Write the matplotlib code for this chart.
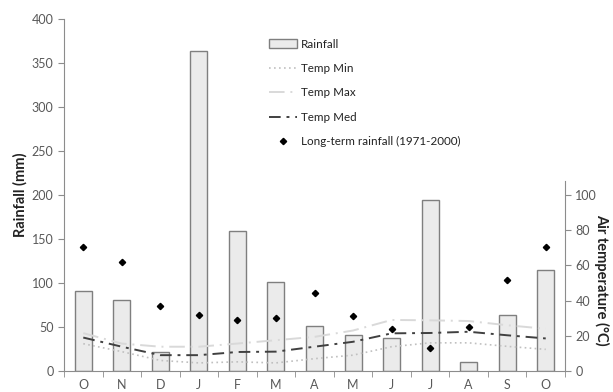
import numpy as np
import matplotlib
matplotlib.use("Agg")
import matplotlib.pyplot as plt
from matplotlib.patches import Patch
from matplotlib.lines import Line2D

plt.rcParams['font.family'] = ['Lato', 'DejaVu Sans']

# -------------------------------
# Data
# -------------------------------
months = ['O', 'N', 'D', 'J', 'F', 'M', 'A', 'M', 'J', 'J', 'A', 'S', 'O']

rainfall = [91, 81, 22, 364, 159, 101, 51, 41, 38, 194, 10, 64, 115]
longterm_rainfall = [141, 124, 74, 64, 58, 60, 89, 62, 48, 26, 50, 103, 141]

temp_min = [15.5, 11, 6, 4.6, 5.2, 4.6, 7, 9, 13.8, 16, 16, 14, 12.3]
temp_max = [21.5, 15.6, 13.8, 13.8, 15.6, 17.5, 19.4, 23, 29, 28.8, 28.4, 26, 24]
temp_med = [19, 13.8, 9, 9, 10.8, 11, 13.8, 16.6, 21.4, 21.6, 22.3, 20.3, 18.5]

x = np.arange(len(months))
grey = '#8c8c8c'
text_col = '#595959'
tick_fs = 9

fig = plt.figure(figsize=(6.13, 3.92), dpi=100)
ax = fig.add_axes([64 / 613, 1 - 371 / 392, 501 / 613, 352 / 392])
ax2 = ax.twinx()

# Bars and long-term points
ax.bar(x, rainfall, width=0.44, color='#ebebeb', edgecolor='#7f7f7f',
       linewidth=1.0, zorder=2)
ax.plot(x, longterm_rainfall, linestyle='none', marker='D', markersize=3.2,
        color='black', zorder=4)

# Temperature lines
min_style = dict(linestyle=(0, (1, 2)), color='#c0c0c0', linewidth=1.2)
max_style = dict(linestyle=(0, (8, 3, 1, 3)), color='#d9d9d9', linewidth=1.4)
med_style = dict(linestyle=(0, (6, 3, 1.5, 3)), color='#404040', linewidth=1.4)
ax2.plot(x, temp_min, **min_style)
ax2.plot(x, temp_max, **max_style)
ax2.plot(x, temp_med, **med_style)

# Left axis
ax.set_xlim(-0.5, len(months) - 0.5)
ax.set_ylim(0, 400)
ax.set_yticks(np.arange(0, 401, 50))
ax.set_xticks(x)
ax.set_xticklabels(months)
ax.set_xticks(np.arange(-0.5, len(months), 1), minor=True)
ax.tick_params(axis='x', which='major', length=0, pad=6, labelsize=tick_fs, labelcolor=text_col)
ax.tick_params(axis='x', which='minor', length=4, direction='out', color=grey)
ax.tick_params(axis='y', length=4, direction='out', color=grey, labelsize=tick_fs,
               labelcolor=text_col)
ax.set_ylabel('Rainfall (mm)', fontsize=10.5, fontweight='bold', color='#222222')
ax.yaxis.set_label_coords(-0.072, 0.5)

for side in ['top', 'right']:
    ax.spines[side].set_visible(False)
for side in ['left', 'bottom']:
    ax.spines[side].set_color(grey)

# Right axis
ax2.set_ylim(0, 200)
ax2.set_yticks(np.arange(0, 101, 20))
ax2.spines['right'].set_bounds(0, 108)
ax2.spines['right'].set_color(grey)
for side in ['top', 'left', 'bottom']:
    ax2.spines[side].set_visible(False)
ax2.tick_params(axis='y', length=4, direction='out', color=grey, labelsize=tick_fs,
                labelcolor=text_col)
ax2.set_ylabel('Air temperature (°C)', fontsize=10.5, fontweight='bold', color='#222222',
               rotation=270, va='bottom')
ax2.yaxis.set_label_coords(1.058, 0.26)

# Legend
handles = [
    Patch(facecolor='#ebebeb', edgecolor='#7f7f7f', linewidth=1.0),
    Line2D([], [], **min_style),
    Line2D([], [], **max_style),
    Line2D([], [], **med_style),
    Line2D([], [], linestyle='none', marker='D', markersize=3.2, color='black'),
]
labels = ['Rainfall', 'Temp Min', 'Temp Max', 'Temp Med', 'Long-term rainfall (1971-2000)']
fig.legend(handles, labels, loc='upper left', bbox_to_anchor=(258 / 613, 1 - 28 / 392),
           frameon=False, fontsize=8.4, labelspacing=1.15, handlelength=2.4,
           handletextpad=0.4, labelcolor='#222222')

fig.savefig('out.png', dpi=100)
